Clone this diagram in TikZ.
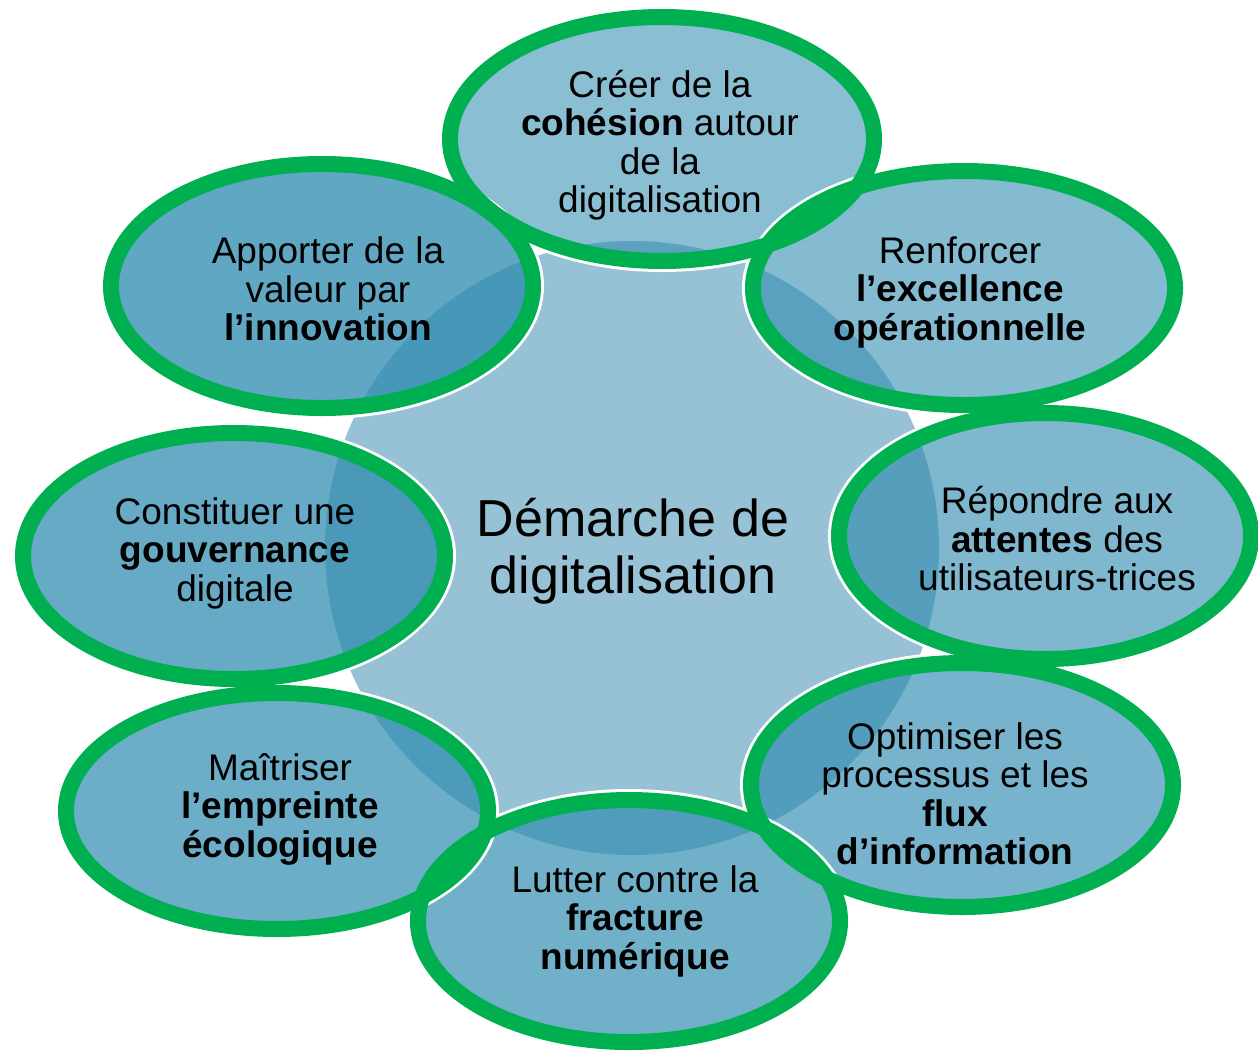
\documentclass[tikz,border=0pt]{standalone}
\usepackage{fontspec}
\setmainfont{Liberation Sans}
\usetikzlibrary{positioning}
\definecolor{hubblue}{RGB}{151,193,212}
\definecolor{ringgreen}{RGB}{0,176,80}
\definecolor{bubbleblue}{RGB}{46,139,176}
\def\bubbles{662/139/212/122/0.56,964/288/211/117/0.59,
	1045/536/206/123/0.62,962/785/211/122/0.65,
	629/921/211/121/0.68,277/811/211/118/0.70,
	234/556/211/123/0.73,322/286/211/122/0.76}
\begin{document}
\begin{tikzpicture}[x=1pt,y=-1pt,
			topic/.style={align=center,inner sep=0pt,font=\fontsize{37}{38.5}\selectfont},
			bubble/.style={fill=bubbleblue,draw=white,line width=4pt},
			ring/.style={draw=ringgreen,line width=16pt}]
			\tikzstyle{hubtext}=[align=center,inner sep=0pt,font=\fontsize{52}{57}\selectfont]
			\useasboundingbox (0,0) rectangle (1258,1053);
			
			\fill[hubblue] (632,548) circle (307);
			
			\foreach \x/\y/\rx/\ry/\op in \bubbles
				\filldraw[bubble,fill opacity=\op] (\x,\y) ellipse [x radius=\rx+9, y radius=\ry+9];
			\foreach \x/\y/\rx/\ry/\op in \bubbles
				\draw[ring] (\x,\y) ellipse [x radius=\rx, y radius=\ry];
			
			\node[hubtext]  (hub)         at (633,551)  {Démarche de\\digitalisation};
			\node[topic]    (cohesion)    at (660,145)  {Créer de la\\\textbf{cohésion} autour\\de la\\digitalisation};
			\node[topic]    (excellence)  at (960,292)  {Renforcer\\\textbf{l’excellence}\\\textbf{opérationnelle}};
			\node[topic]    (attentes)    at (1057,539) {Répondre aux\\\textbf{attentes} des\\utilisateurs-trices};
			\node[topic]    (flux)        at (955,794)  {Optimiser les\\processus et les\\\textbf{flux}\\\textbf{d’information}};
			\node[topic]    (fracture)    at (635,921)  {Lutter contre la\\\textbf{fracture}\\\textbf{numérique}};
			\node[topic]    (empreinte)   at (280,809)  {Maîtriser\\\textbf{l’empreinte}\\\textbf{écologique}};
			\node[topic]    (gouvernance) at (235,553)  {Constituer une\\\textbf{gouvernance}\\digitale};
			\node[topic]    (innovation)  at (328,289)  {Apporter de la\\valeur par\\\textbf{l’innovation}};
			
			\end{tikzpicture}
\end{document}
